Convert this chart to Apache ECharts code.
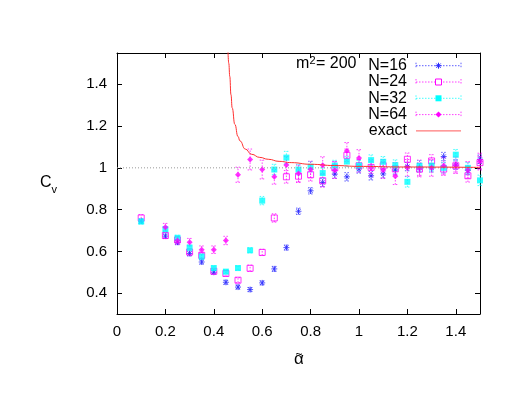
<!DOCTYPE html>
<html>
<head>
<meta charset="utf-8">
<script src="https://cdn.jsdelivr.net/npm/echarts@6/dist/echarts.min.js"></script>
<style>
  html, body { margin: 0; padding: 0; background: #fff; }
  #chart { width: 523px; height: 404px; }
</style>
</head>
<body>
<div id="chart"></div>
<script>
// alpha values shared by all data sets
const alpha = [0.1, 0.2, 0.25, 0.3, 0.35, 0.4, 0.45, 0.5, 0.55, 0.6, 0.65, 0.7, 0.75, 0.8,
  0.85, 0.9, 0.95, 1.0, 1.05, 1.1, 1.15, 1.2, 1.25, 1.3, 1.35, 1.4, 1.45, 1.5]

const cvN16 = [0.745, 0.673, 0.644, 0.59, 0.549, 0.50, 0.452, 0.429, 0.417, 0.449, 0.516, 0.618, 0.792, 0.89,
  0.93, 0.97, 0.957, 0.995, 0.962, 0.971, 0.99, 1.006, 1.0, 1.0, 1.054, 1.013, 0.987, 1.041]
const errN16 = [0.01, 0.01, 0.012, 0.012, 0.01, 0.01, 0.01, 0.01, 0.01, 0.01, 0.012, 0.012, 0.015, 0.015,
  0.02, 0.02, 0.02, 0.02, 0.02, 0.02, 0.02, 0.02, 0.02, 0.02, 0.02, 0.02, 0.02, 0.02]

const cvN24 = [0.76, 0.676, 0.655, 0.597, 0.581, 0.505, 0.494, 0.462, 0.519, 0.595, 0.76, 0.957, 0.96, 0.967,
  0.938, 1.0, 1.06, 1.01, 1.002, 1.01, 0.995, 1.041, 0.994, 1.033, 0.994, 1.01, 0.962, 1.025]
const errN24 = [0.016, 0.015, 0.015, 0.015, 0.015, 0.012, 0.012, 0.012, 0.015, 0.015, 0.02, 0.03, 0.03, 0.03,
  0.03, 0.03, 0.03, 0.03, 0.03, 0.03, 0.03, 0.03, 0.03, 0.03, 0.03, 0.03, 0.03, 0.03]

const cvN32 = [0.743, 0.706, 0.665, 0.618, 0.575, 0.52, 0.503, 0.52, 0.605, 0.843, 0.992, 1.049, 0.992, 1.005,
  0.975, 1.011, 1.03, 1.011, 1.037, 1.029, 1.013, 0.933, 1.01, 1.011, 1.0, 1.063, 1.0, 0.94]
const errN32 = [0.012, 0.012, 0.012, 0.012, 0.012, 0.01, 0.01, 0.01, 0.012, 0.02, 0.025, 0.03, 0.025, 0.025,
  0.025, 0.025, 0.025, 0.025, 0.025, 0.025, 0.025, 0.025, 0.025, 0.025, 0.025, 0.025, 0.025, 0.025]

const alpha64 = alpha.slice(1)
const cvN64 = [0.716, 0.652, 0.644, 0.608, 0.608, 0.652, 0.967, 1.04, 0.992, 0.957, 1.014, 0.973, 0.992,
  1.013, 0.989, 1.081, 1.047, 1.0, 0.99, 0.96, 1.0, 0.997, 1.0, 1.01, 1.013, 0.99, 1.03]
const errN64 = [0.018, 0.018, 0.018, 0.018, 0.018, 0.02, 0.036, 0.05, 0.045, 0.035, 0.04, 0.04, 0.04,
  0.04, 0.04, 0.04, 0.04, 0.04, 0.04, 0.04, 0.04, 0.04, 0.04, 0.04, 0.04, 0.04, 0.04]

// exact curve
const exactX = [0.457, 0.462, 0.466, 0.471, 0.476, 0.487, 0.5, 0.508, 0.53, 0.556, 0.59, 0.625, 0.67, 0.72,
  0.8, 0.9, 1.0, 1.2, 1.5]
const exactY = [1.62, 1.5, 1.438, 1.35, 1.287, 1.208, 1.15, 1.129, 1.09, 1.065, 1.05, 1.041, 1.031, 1.025,
  1.017, 1.011, 1.007, 1.004, 1.002]

const refX = [0, 1.5]
const refY = [1, 1]

const xTicks = [0, 0.2, 0.4, 0.6, 0.8, 1, 1.2, 1.4]
const yTicks = [0.4, 0.6, 0.8, 1, 1.2, 1.4]

const FONT = 'Liberation Sans'
const FS = 15
const blue = '#2a2aff', pink = '#ff00ff', cyan = '#00ffff', mag = '#ff00ff', red = '#ff3030'

const pairs = (xs, ys) => xs.map((x, i) => [x, ys[i]])
const bars = (xs, ys, es) => xs.map((x, i) => [x, ys[i] - es[i], ys[i] + es[i]])

function errRender(color) {
  return function (params, api) {
    const p1 = api.coord([api.value(0), api.value(1)])
    const p2 = api.coord([api.value(0), api.value(2)])
    const style = { stroke: color, lineWidth: 1, lineDash: [1.5, 1.5], opacity: 0.75 }
    return {
      type: 'group', children: [
        { type: 'line', shape: { x1: p1[0], y1: p1[1], x2: p2[0], y2: p2[1] }, style },
        { type: 'line', shape: { x1: p1[0] - 2.5, y1: p1[1], x2: p1[0] + 2.5, y2: p1[1] }, style },
        { type: 'line', shape: { x1: p2[0] - 2.5, y1: p2[1], x2: p2[0] + 2.5, y2: p2[1] }, style }
      ]
    }
  }
}

const star = 'path://M0,5L10,5M5,0L5,10M1.5,1.5L8.5,8.5M1.5,8.5L8.5,1.5'

const sets = [
  { name: 'N=16', xs: alpha, ys: cvN16, es: errN16, color: blue, symbol: star, size: 6, item: { color: 'none', borderColor: blue, borderWidth: 1 } },
  { name: 'N=24', xs: alpha, ys: cvN24, es: errN24, color: pink, symbol: 'rect', size: 6, item: { color: 'none', borderColor: pink, borderWidth: 1 } },
  { name: 'N=32', xs: alpha, ys: cvN32, es: errN32, color: cyan, symbol: 'rect', size: 6, item: { color: cyan } },
  { name: 'N=64', xs: alpha64, ys: cvN64, es: errN64, color: mag, symbol: 'diamond', size: 6, item: { color: mag } }
]

const series = []
series.push({
  type: 'line', data: pairs(refX, refY), symbol: 'none', silent: true,
  lineStyle: { color: '#999', width: 1, type: [1, 2] }
})
sets.forEach(s => {
  series.push({ type: 'custom', name: s.name, renderItem: errRender(s.color), data: bars(s.xs, s.ys, s.es), silent: true })
})
sets.forEach(s => {
  series.push({ type: 'scatter', name: s.name, data: pairs(s.xs, s.ys), symbol: s.symbol, symbolSize: s.size, itemStyle: s.item })
})
series.push({
  type: 'line', name: 'exact', data: pairs(exactX, exactY), symbol: 'none', smooth: true, smoothMonotone: 'x',
  clip: true, lineStyle: { color: red, width: 1 }
})

// key marks drawn by hand (gnuplot style: dotted bar with end caps and the point in the middle)
function keyMark(i, y) {
  const cx = 438.5
  if (i === 0) {
    const st = { stroke: blue, lineWidth: 1 }
    return [
      { type: 'line', shape: { x1: cx - 3, y1: y, x2: cx + 3, y2: y }, style: st },
      { type: 'line', shape: { x1: cx, y1: y - 3, x2: cx, y2: y + 3 }, style: st },
      { type: 'line', shape: { x1: cx - 2.2, y1: y - 2.2, x2: cx + 2.2, y2: y + 2.2 }, style: st },
      { type: 'line', shape: { x1: cx - 2.2, y1: y + 2.2, x2: cx + 2.2, y2: y - 2.2 }, style: st }
    ]
  }
  if (i === 1) return [{ type: 'rect', shape: { x: cx - 3, y: y - 3, width: 6, height: 6 }, style: { fill: '#fff', stroke: pink, lineWidth: 1 } }]
  if (i === 2) return [{ type: 'rect', shape: { x: cx - 3, y: y - 3, width: 6, height: 6 }, style: { fill: cyan } }]
  return [{ type: 'polygon', shape: { points: [[cx, y - 3], [cx + 3, y], [cx, y + 3], [cx - 3, y]] }, style: { fill: mag } }]
}

const keyRows = [65.7, 82, 98.3, 114.6, 130.9]
const keyFont = (FS + 1) + 'px ' + FONT
const keyGraphics = []
sets.forEach((s, i) => {
  const y = keyRows[i]
  const ls = { stroke: s.color, lineWidth: 1, lineDash: [1.5, 1.5], opacity: 0.75 }
  keyGraphics.push({ type: 'text', x: 407, y: y, style: { text: s.name, font: keyFont, fill: '#000', align: 'right', verticalAlign: 'middle' } })
  keyGraphics.push({ type: 'line', shape: { x1: 416, y1: y, x2: 461, y2: y }, style: ls })
  keyGraphics.push({ type: 'line', shape: { x1: 416, y1: y - 3, x2: 416, y2: y + 3 }, style: ls })
  keyGraphics.push({ type: 'line', shape: { x1: 461, y1: y - 3, x2: 461, y2: y + 3 }, style: ls })
  keyMark(i, y).forEach(g => keyGraphics.push(g))
})
keyGraphics.push({ type: 'text', x: 407, y: keyRows[4], style: { text: 'exact', font: keyFont, fill: '#000', align: 'right', verticalAlign: 'middle' } })
keyGraphics.push({ type: 'line', shape: { x1: 416, y1: keyRows[4], x2: 461, y2: keyRows[4] }, style: { stroke: red, lineWidth: 1, opacity: 0.8 } })
keyGraphics.push({ type: 'text', x: 296, y: 72, style: { text: 'm', font: keyFont, fill: '#000', verticalAlign: 'bottom' } })
keyGraphics.push({ type: 'text', x: 309.5, y: 66, style: { text: '2', font: '11px ' + FONT, fill: '#000', verticalAlign: 'bottom' } })
keyGraphics.push({ type: 'text', x: 316, y: 72, style: { text: '= 200', font: keyFont, fill: '#000', verticalAlign: 'bottom' } })
// y label C_v
keyGraphics.push({ type: 'text', x: 40, y: 191, style: { text: 'C', font: keyFont, fill: '#000', verticalAlign: 'bottom' } })
keyGraphics.push({ type: 'text', x: 51.5, y: 195, style: { text: 'v', font: '11px ' + FONT, fill: '#000', verticalAlign: 'bottom' } })
// x label alpha with tilde
keyGraphics.push({ type: 'text', x: 299, y: 368, style: { text: 'α', font: '17px ' + FONT, fill: '#000', align: 'center', verticalAlign: 'bottom' } })
keyGraphics.push({ type: 'text', x: 299, y: 361, style: { text: '~', font: '12px ' + FONT, fill: '#000', align: 'center', verticalAlign: 'bottom' } })

const chart = echarts.init(document.getElementById('chart'), null, { renderer: 'canvas' })

const axisCommon = {
  type: 'value',
  axisLine: { show: true, onZero: false, lineStyle: { color: '#000', width: 1 } },
  axisTick: { show: true, inside: true, length: 5, lineStyle: { color: '#000' } },
  splitLine: { show: false }
}

chart.setOption({
  animation: false,
  backgroundColor: '#fff',
  textStyle: { fontFamily: FONT },
  grid: { left: 117, right: 43, top: 53, bottom: 90 },
  xAxis: [
    Object.assign({}, axisCommon, {
      min: 0, max: 1.5, position: 'bottom',
      axisTick: Object.assign({}, axisCommon.axisTick, { customValues: xTicks }),
      axisLabel: { customValues: xTicks, color: '#000', fontSize: FS, fontFamily: FONT, margin: 10 }
    }),
    Object.assign({}, axisCommon, {
      min: 0, max: 1.5, position: 'top',
      axisTick: Object.assign({}, axisCommon.axisTick, { customValues: xTicks }),
      axisLabel: { show: false }
    })
  ],
  yAxis: [
    Object.assign({}, axisCommon, {
      min: 0.3, max: 1.55, position: 'left',
      axisTick: Object.assign({}, axisCommon.axisTick, { customValues: yTicks }),
      axisLabel: { customValues: yTicks, color: '#000', fontSize: FS, fontFamily: FONT, margin: 10 }
    }),
    Object.assign({}, axisCommon, {
      min: 0.3, max: 1.55, position: 'right',
      axisTick: Object.assign({}, axisCommon.axisTick, { customValues: yTicks }),
      axisLabel: { show: false }
    })
  ],
  graphic: keyGraphics,
  series: series
})
</script>
</body>
</html>
